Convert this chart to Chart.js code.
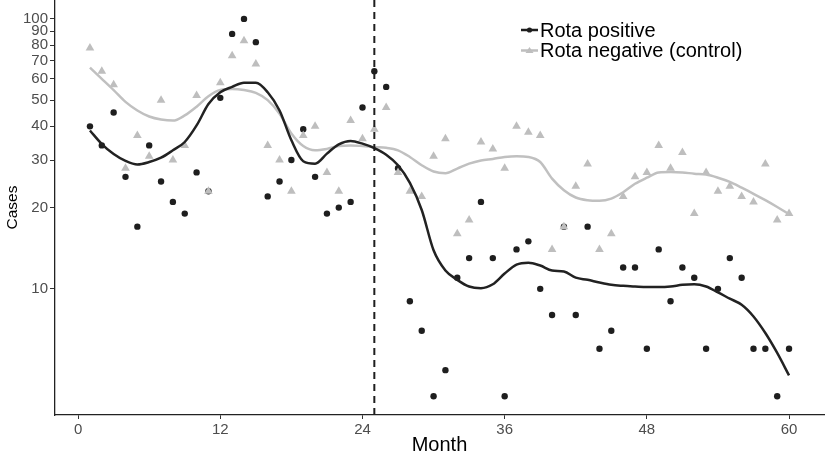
<!DOCTYPE html>
<html>
<head>
<meta charset="utf-8">
<script src="https://cdn.jsdelivr.net/npm/chart.js@4.4.1/dist/chart.umd.min.js"></script>
<style>
  body { margin: 0; background: #fff; }
  #wrap { width: 828px; height: 457px; }
</style>
</head>
<body>
<div id="wrap"><canvas id="rotaChart" width="828" height="457"></canvas></div>
<script>
// months 1..60
const months = Array.from({ length: 60 }, (_, i) => i + 1);

// observed cases
const rotaPositive = [40, 34, 45, 26, 17, 34, 25, 21, 19, 27, 23, 51, 88, 100, 82, 22, 25, 30, 39, 26,
  19, 20, 21, 47, 64, 56, 28, 9, 7, 4, 5, 11, 13, 21, 13, 4, 14, 15, 10, 8,
  17, 8, 17, 6, 7, 12, 12, 6, 14, 9, 12, 11, 6, 10, 13, 11, 6, 6, 4, 6];
const rotaNegative = [78, 64, 57, 28, 37, 31, 50, 30, 34, 52, 23, 58, 73, 83, 68, 34, 30, 23, 37, 40,
  27, 23, 42, 36, 39, 47, 27, 23, 22, 31, 36, 16, 18, 35, 33, 28, 40, 38, 37, 14,
  17, 24, 29, 14, 16, 22, 26, 27, 34, 28, 32, 19, 27, 23, 24, 22, 21, 29, 18, 19];

// smoothed trend
const smoothPositive = [38.6, 34.4, 31.6, 29.8, 28.9, 29.5, 30.6, 32.6, 35, 40.3, 48.4, 53.5, 56, 58, 58, 53.5, 45.8, 35.5, 29.7, 29.1,
  31.7, 34.3, 35.3, 34.5, 33.2, 31.4, 28.7, 24.7, 19.6, 13.9, 11.7, 10.8, 10.2, 10.06, 10.4, 11.4, 12.3, 12.5, 12.2, 11.7,
  11.6, 11.0, 10.8, 10.55, 10.35, 10.26, 10.2, 10.15, 10.15, 10.2, 10.35, 10.4, 10.2, 9.7, 9.2, 8.73, 7.9, 6.86, 5.79, 4.78];
const smoothNegative = [66, 60, 54.5, 49.3, 45.8, 43.5, 42.4, 42, 43.9, 47.3, 51.7, 54.6, 55, 54.5, 53.2, 50, 44.5, 37.6, 33.8, 32.6,
  33, 33.8, 34, 33.8, 33.5, 33.3, 32.6, 30.8, 28.7, 27.2, 26.8, 27.9, 29.1, 29.9, 30.3, 30.8, 31, 30.8, 29.5, 25.6,
  23.2, 21.8, 21.3, 21.2, 21.6, 22.8, 24.5, 25.8, 27, 27.1, 27, 26.7, 26.5, 25.8, 24.9, 23.7, 22.5, 21.3, 20.1, 18.9];

const xTicks = [0, 12, 24, 36, 48, 60];
const yTicks = [10, 20, 30, 40, 50, 60, 70, 80, 90, 100];
const interventionMonth = 25;

const yMin = 3.41, yMax = 117.5;
const black = '#1e1e1e';
const grey = '#bebebe';
const fontFamily = '"Liberation Sans", Arial, sans-serif';

function toPoints(values) {
  return months.map((m, i) => ({ x: m, y: values[i] }));
}

// legend drawn in the top right corner, line + marker like ggplot
const legendPlugin = {
  id: 'rotaLegend',
  afterDraw(chart) {
    const c = chart.ctx;
    const items = [
      { text: 'Rota positive', color: black, shape: 'circle', y: 30 },
      { text: 'Rota negative (control)', color: grey, shape: 'triangle', y: 50.5 }
    ];
    c.save();
    items.forEach(it => {
      c.strokeStyle = it.color;
      c.fillStyle = it.color;
      c.lineWidth = 2.5;
      c.beginPath();
      c.moveTo(521, it.y);
      c.lineTo(538, it.y);
      c.stroke();
      c.beginPath();
      if (it.shape === 'circle') {
        c.arc(529.5, it.y, 2.6, 0, Math.PI * 2);
      } else {
        c.moveTo(529.5, it.y - 3.5);
        c.lineTo(533.5, it.y + 2.5);
        c.lineTo(525.5, it.y + 2.5);
        c.closePath();
      }
      c.fill();
      c.fillStyle = '#000';
      c.font = '20px ' + fontFamily;
      c.textBaseline = 'middle';
      c.textAlign = 'left';
      c.fillText(it.text, 540, it.y + 1);
    });
    c.restore();
  }
};

const ctx = document.getElementById('rotaChart').getContext('2d');

new Chart(ctx, {
  type: 'scatter',
  data: {
    datasets: [
      {
        label: 'intervention',
        type: 'line',
        data: [{ x: interventionMonth, y: yMin }, { x: interventionMonth, y: yMax }],
        borderColor: black,
        borderWidth: 2,
        borderDash: [7, 5],
        pointRadius: 0,
        order: 0
      },
      {
        label: 'Rota positive trend',
        type: 'line',
        data: toPoints(smoothPositive),
        borderColor: '#222',
        borderWidth: 2.5,
        pointRadius: 0,
        cubicInterpolationMode: 'monotone',
        order: 1
      },
      {
        label: 'Rota negative trend',
        type: 'line',
        data: toPoints(smoothNegative),
        borderColor: '#c0c0c0',
        borderWidth: 2.5,
        pointRadius: 0,
        cubicInterpolationMode: 'monotone',
        order: 2
      },
      {
        label: 'Rota negative (control)',
        data: toPoints(rotaNegative),
        pointStyle: 'triangle',
        pointRadius: 5,
        backgroundColor: grey,
        borderColor: grey,
        borderWidth: 0,
        order: 3
      },
      {
        label: 'Rota positive',
        data: toPoints(rotaPositive),
        pointStyle: 'circle',
        pointRadius: 3.2,
        backgroundColor: black,
        borderColor: black,
        borderWidth: 0,
        order: 4
      }
    ]
  },
  options: {
    responsive: false,
    animation: false,
    devicePixelRatio: 1,
    layout: { autoPadding: false, padding: { top: 0, right: 4, left: 0, bottom: 0 } },
    plugins: {
      legend: { display: false },
      tooltip: { enabled: false }
    },
    scales: {
      x: {
        type: 'linear',
        min: -1.95,
        max: 62.95,
        afterBuildTicks: (scale) => { scale.ticks = xTicks.map(v => ({ value: v })); },
        afterFit: (scale) => { scale.height = 42; },
        ticks: {
          color: '#4d4d4d',
          font: { size: 15, family: fontFamily },
          padding: 2,
          maxRotation: 0
        },
        grid: { drawOnChartArea: false, tickLength: 4, tickColor: '#333' },
        border: { display: true, color: '#222', width: 1.3 },
        title: {
          display: true,
          text: 'Month',
          color: '#000',
          font: { size: 20, family: fontFamily },
          padding: { top: 0, bottom: 0 }
        }
      },
      y: {
        type: 'logarithmic',
        min: yMin,
        max: yMax,
        afterBuildTicks: (scale) => { scale.ticks = yTicks.map(v => ({ value: v })); },
        afterFit: (scale) => {
          scale.width = 55;
          scale.paddingTop = 0;
          scale.paddingBottom = 0;
        },
        ticks: {
          color: '#4d4d4d',
          font: { size: 15, family: fontFamily },
          padding: 2,
          callback: (v) => String(v)
        },
        grid: { drawOnChartArea: false, tickLength: 5, tickColor: '#333' },
        border: { display: true, color: '#222', width: 1.3 },
        title: {
          display: true,
          text: 'Cases',
          color: '#000',
          font: { size: 15.5, family: fontFamily },
          padding: { top: 3, bottom: 0 }
        }
      }
    }
  },
  plugins: [legendPlugin]
});
</script>
</body>
</html>
